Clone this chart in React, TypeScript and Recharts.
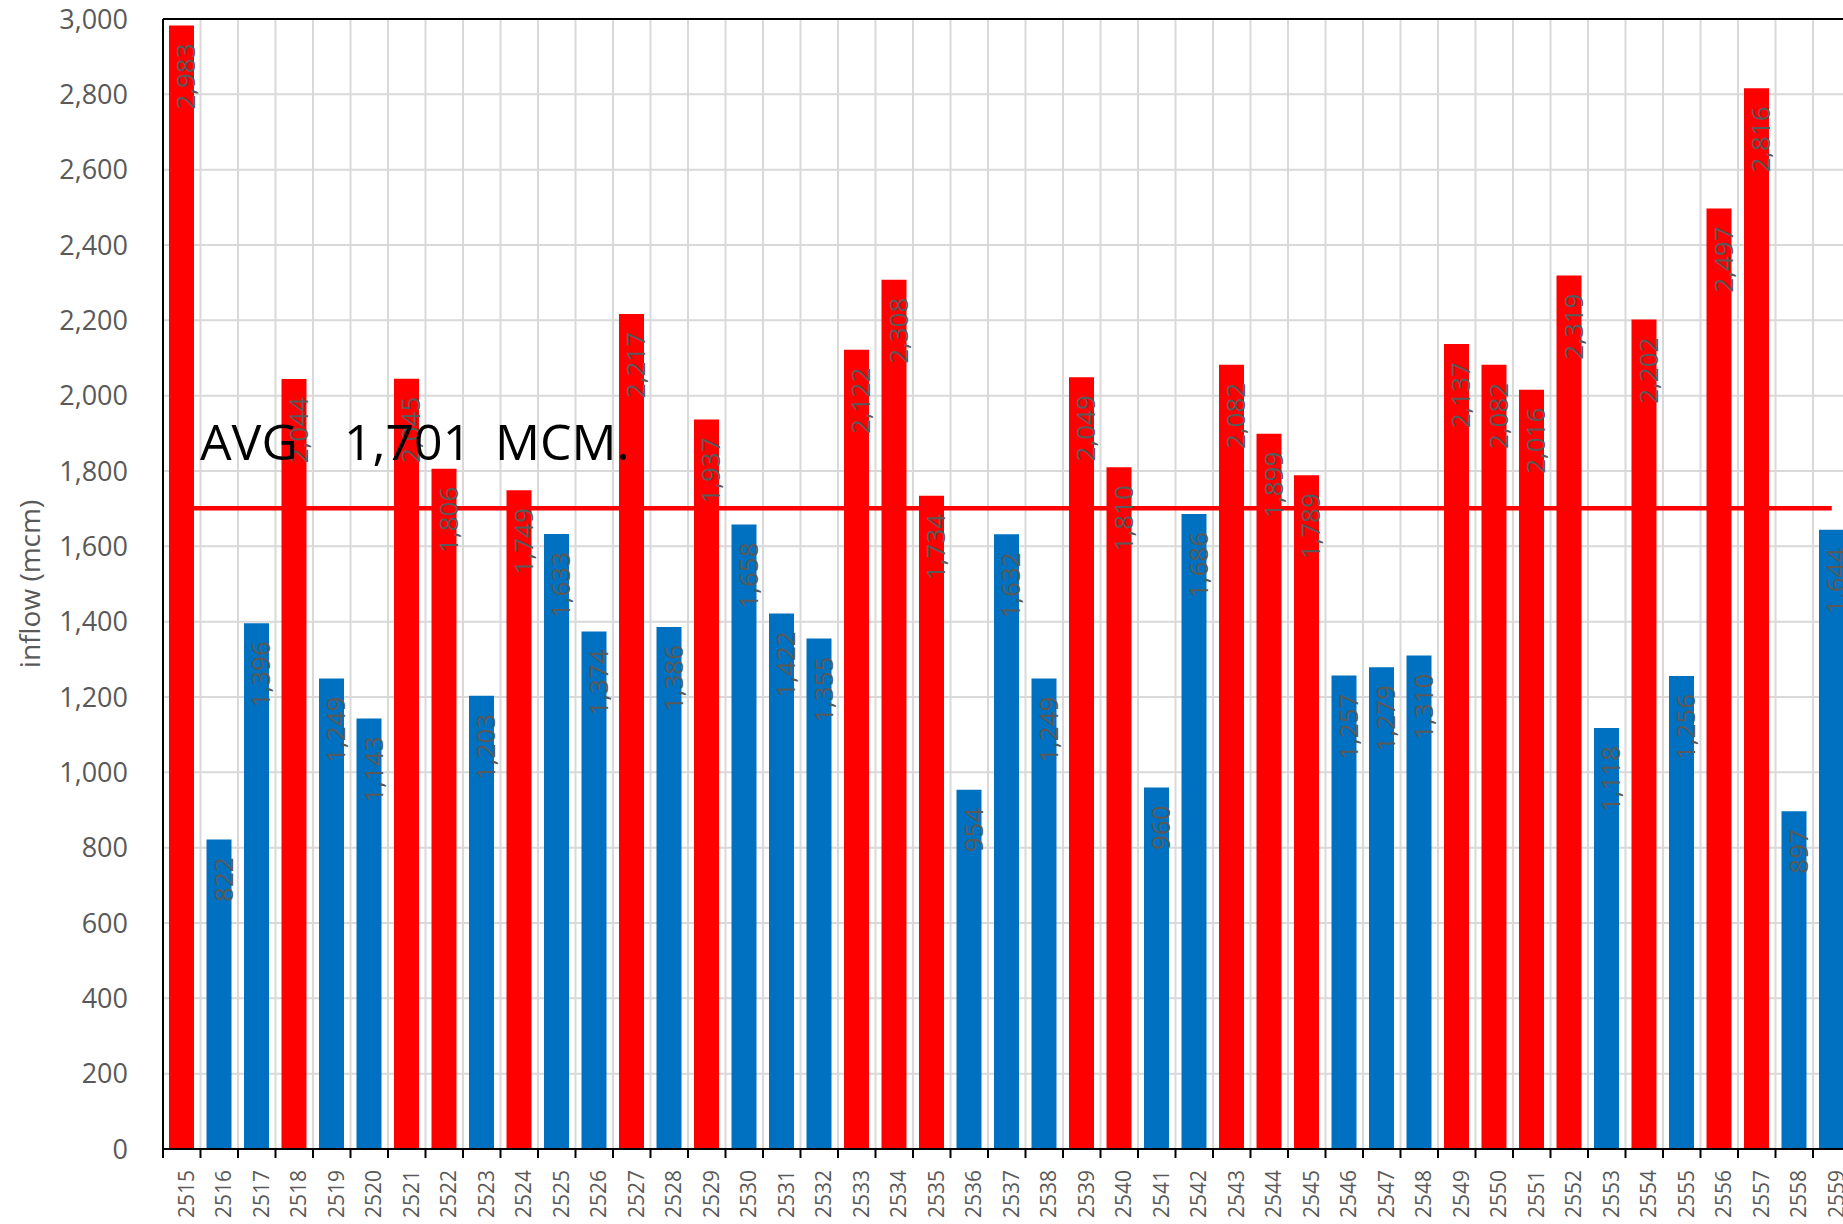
import { ComposedChart, Bar, Cell, XAxis, YAxis, CartesianGrid, ReferenceLine, LabelList, Label } from 'recharts'

const years = [
  '2515', '2516', '2517', '2518', '2519', '2520', '2521', '2522', '2523', '2524',
  '2525', '2526', '2527', '2528', '2529', '2530', '2531', '2532', '2533', '2534',
  '2535', '2536', '2537', '2538', '2539', '2540', '2541', '2542', '2543', '2544',
  '2545', '2546', '2547', '2548', '2549', '2550', '2551', '2552', '2553', '2554',
  '2555', '2556', '2557', '2558', '2559',
]

const inflow = [
  2983, 822, 1396, 2044, 1249, 1143, 2045, 1806, 1203, 1749,
  1633, 1374, 2217, 1386, 1937, 1658, 1422, 1355, 2122, 2308,
  1734, 954, 1632, 1249, 2049, 1810, 960, 1686, 2082, 1899,
  1789, 1257, 1279, 1310, 2137, 2082, 2016, 2319, 1118, 2202,
  1256, 2497, 2816, 897, 1644,
]

const AVG = 1701
const yTicks = [0, 200, 400, 600, 800, 1000, 1200, 1400, 1600, 1800, 2000, 2200, 2400, 2600, 2800, 3000]

const data = years.map((year, i) => ({ year, inflow: inflow[i] }))

const RED = '#FF0000'
const BLUE = '#0070C0'
const GREY = '#595959'
const FONT = '"Open Sans", sans-serif'

// plot area: left 163, right ~1850 (runs slightly past the window edge)
const CHART_W = 1860
const CHART_H = 1224
const Y_AXIS_W = 163
const X_AXIS_H = 75
const MARGIN = { top: 19, right: 9.5, bottom: 0, left: 0 }
const PLOT_W = CHART_W - Y_AXIS_W - MARGIN.left - MARGIN.right
const BAND = PLOT_W / years.length

function XTick(props: any) {
  const { x, y, payload, index } = props
  const tx = x + 4
  const ty = y + 21
  return (
    <g>
      <line x1={x - BAND / 2} x2={x - BAND / 2} y1={y} y2={y + 9} stroke="#000" strokeWidth={2} />
      {index === years.length - 1 && (
        <line x1={x + BAND / 2} x2={x + BAND / 2} y1={y} y2={y + 9} stroke="#000" strokeWidth={2} />
      )}
      <text
        x={tx}
        y={ty}
        transform={`rotate(-90 ${tx} ${ty})`}
        textAnchor="end"
        dominantBaseline="central"
        fontSize={21}
        fontFamily={FONT}
        fill={GREY}
      >
        {payload.value}
      </text>
    </g>
  )
}

function BarValue(props: any) {
  const { x, y, width, value } = props
  const tx = x + width / 2 + 4
  const ty = y + 18
  return (
    <text
      x={tx}
      y={ty}
      transform={`rotate(-90 ${tx} ${ty})`}
      textAnchor="end"
      dominantBaseline="central"
      fontSize={26}
      fontFamily={FONT}
      fill={GREY}
    >
      {Number(value).toLocaleString('en-US')}
    </text>
  )
}

function YTitle(props: any) {
  const vb = props.viewBox
  const cx = vb.x + 29
  const cy = vb.y + vb.height / 2
  return (
    <text
      x={cx}
      y={cy}
      transform={`rotate(-90 ${cx} ${cy})`}
      textAnchor="middle"
      dominantBaseline="central"
      fontSize={28}
      fontFamily={FONT}
      fill={GREY}
    >
      inflow (mcm)
    </text>
  )
}

export default function App() {
  return (
    <div
      style={{
        position: 'fixed',
        left: 0,
        top: 0,
        width: 1843,
        height: 1224,
        overflow: 'hidden',
        background: '#fff',
        fontFamily: FONT,
      }}
    >
      <ComposedChart width={CHART_W} height={CHART_H} data={data} margin={MARGIN}>
        <CartesianGrid
          stroke="#D9D9D9"
          strokeWidth={2}
          verticalCoordinatesGenerator={({ offset }: any) =>
            years.map((_, i) => offset.left + i * (offset.width / years.length)).slice(1)
          }
        />
        <XAxis
          dataKey="year"
          interval={0}
          height={X_AXIS_H}
          tickLine={false}
          tickSize={0}
          tickMargin={0}
          axisLine={{ stroke: '#000', strokeWidth: 2 }}
          tick={<XTick />}
        />
        <YAxis
          width={Y_AXIS_W}
          domain={[0, 3000]}
          ticks={yTicks}
          interval={0}
          tickLine={false}
          tickMargin={29}
          axisLine={{ stroke: '#000', strokeWidth: 2 }}
          tick={{ fontSize: 27, fill: GREY, fontFamily: FONT }}
          tickFormatter={(v: number) => v.toLocaleString('en-US')}
        >
          <Label content={<YTitle />} />
        </YAxis>
        <ReferenceLine y={3000} stroke="#000" strokeWidth={2} />
        <Bar dataKey="inflow" barSize={25} isAnimationActive={false}>
          {data.map((d) => (
            <Cell key={d.year} fill={d.inflow > AVG ? RED : BLUE} />
          ))}
          <LabelList dataKey="inflow" content={<BarValue />} />
        </Bar>
        <ReferenceLine
          segment={[
            { x: years[0], y: AVG },
            { x: years[years.length - 1], y: AVG },
          ]}
          stroke={RED}
          strokeWidth={4.5}
        />
      </ComposedChart>
      <svg
        width={1843}
        height={1224}
        style={{ position: 'absolute', left: 0, top: 0, pointerEvents: 'none' }}
      >
        <text y={460} fontSize={50} fontFamily={FONT} fill="#000">
          <tspan x={200}>AVG</tspan>
          <tspan x={344}>{AVG.toLocaleString('en-US')}</tspan>
          <tspan x={495}>MCM.</tspan>
        </text>
      </svg>
    </div>
  )
}
